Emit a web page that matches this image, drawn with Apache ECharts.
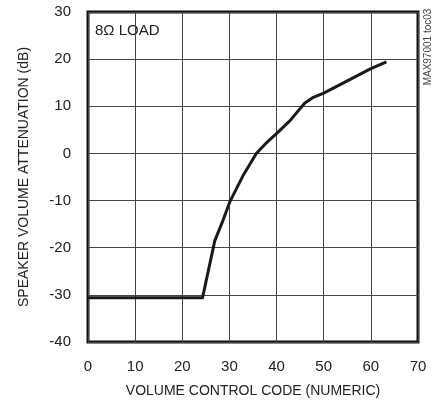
<!DOCTYPE html>
<html>
<head>
<meta charset="utf-8">
<script src="https://cdn.jsdelivr.net/npm/echarts@6/dist/echarts.min.js"></script>
<style>
  html, body { margin: 0; padding: 0; background: #fff; }
  #main { width: 438px; height: 406px; }
</style>
</head>
<body>
<div id="main"></div>
<script>
// volume code vs attenuation
var codes = [0, 24.3, 26.9, 28.6, 30.2, 32.9, 35.7, 37.9, 40.2, 42.8, 46.0, 47.8, 50.0, 60.0, 63.3];
var attenuation = [-30.6, -30.6, -18.5, -14.3, -10, -4.7, 0, 2.3, 4.4, 6.9, 10.7, 11.9, 12.8, 18.0, 19.4];
var xTicks = [0, 10, 20, 30, 40, 50, 60, 70];
var yTicks = [-40, -30, -20, -10, 0, 10, 20, 30];

var font = '"Liberation Sans Narrow", "Arial Narrow", "Liberation Sans", sans-serif';

var myChart = echarts.init(document.getElementById("main"));
var option = {
  animation: false,
  grid: {
    left: 88,
    right: 20,
    top: 12,
    bottom: 64,
    show: true,
    borderWidth: 3,
    borderColor: "#111",
  },
  xAxis: {
    type: "value",
    min: xTicks[0],
    max: xTicks[xTicks.length - 1],
    interval: 10,
    name: "VOLUME CONTROL CODE (NUMERIC)",
    nameLocation: "middle",
    nameGap: 42,
    nameTextStyle: { fontFamily: font, fontSize: 14, color: "#222" },
    axisLine: { show: false },
    axisTick: { show: false },
    axisLabel: { margin: 17, fontFamily: font, fontSize: 15, color: "#222" },
    splitLine: { lineStyle: { color: "#444", width: 1 } },
  },
  yAxis: {
    type: "value",
    min: yTicks[0],
    max: yTicks[yTicks.length - 1],
    interval: 10,
    name: "SPEAKER VOLUME ATTENUATION (dB)",
    nameLocation: "middle",
    nameGap: 57,
    nameTextStyle: { fontFamily: font, fontSize: 14, color: "#222" },
    axisLine: { show: false },
    axisTick: { show: false },
    axisLabel: { margin: 17, fontFamily: font, fontSize: 15, color: "#222" },
    splitLine: { lineStyle: { color: "#444", width: 1 } },
  },
  graphic: [
    {
      type: "text",
      left: 95,
      top: 23,
      style: { text: "8Ω LOAD", fontFamily: font, fontSize: 15, fill: "#222" },
    },
    {
      type: "text",
      x: 428,
      y: 47,
      rotation: Math.PI / 2,
      style: {
        text: "MAX97001 toc03",
        fontFamily: font,
        fontSize: 10,
        fill: "#444",
        align: "center",
        verticalAlign: "middle",
      },
    },
  ],
  series: [
    {
      type: "line",
      data: codes.map(function (c, i) { return [c, attenuation[i]]; }),
      showSymbol: false,
      lineStyle: { color: "#1a1a1a", width: 3, join: "round" },
    },
  ],
};
myChart.setOption(option);
</script>
</body>
</html>
